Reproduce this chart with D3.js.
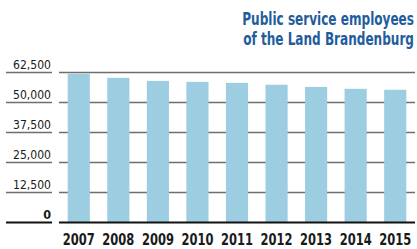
<!DOCTYPE html>
<html><head><meta charset="utf-8">
<script src="https://cdn.jsdelivr.net/npm/d3@7"></script>
<style>
html,body{margin:0;padding:0;background:#fff;}
svg{display:block;}
text{font-family:"DejaVu Sans Condensed","Liberation Sans Narrow","Arial Narrow",sans-serif;}
</style></head>
<body>
<svg id="chart" width="417" height="249"></svg>
<script>
const years = ["2007","2008","2009","2010","2011","2012","2013","2014","2015"];
const employees = [62000, 60300, 59000, 58600, 58200, 57400, 56500, 55700, 55300];
const tickValues = [0, 12500, 25000, 37500, 50000, 62500];
const titleLines = ["Public service employees", "of the Land Brandenburg"];

const svg = d3.select("#chart");
const x = d3.scaleBand().domain(years).range([59, 415]).paddingInner(0.44).paddingOuter(0.22);
const y = d3.scaleLinear().domain([0, 62500]).range([222.5, 72.5]);
const fmt = d3.format(",");

const grid = svg.append("g");
tickValues.forEach(v => {
  const zero = v === 0;
  const col = zero ? "#111" : "#6e6e6e";
  const sw = zero ? 2 : 1.3;
  grid.append("line").attr("x1", 6).attr("x2", 52).attr("y1", y(v)).attr("y2", y(v))
    .attr("stroke", col).attr("stroke-width", sw);
  if (!zero) grid.append("line").attr("x1", 59).attr("x2", 415).attr("y1", y(v)).attr("y2", y(v))
    .attr("stroke", col).attr("stroke-width", sw);
  const t = grid.append("text").attr("x", 51).attr("y", y(v) - 3.5).attr("text-anchor", "end")
    .attr("font-size", 12.5).attr("font-weight", zero ? "bold" : "normal").attr("fill", "#1a1a1a")
    .text(fmt(v));
  if (!zero) t.attr("textLength", 38).attr("lengthAdjust", "spacingAndGlyphs");
});

svg.append("g").selectAll("rect").data(years).join("rect")
  .attr("x", d => x(d)).attr("width", x.bandwidth())
  .attr("y", (d, i) => y(employees[i])).attr("height", (d, i) => y(0) - y(employees[i]))
  .attr("fill", "#9dcde0");

svg.append("line").attr("x1", 59).attr("x2", 415).attr("y1", y(0)).attr("y2", y(0))
  .attr("stroke", "#111").attr("stroke-width", 2);

svg.append("g").selectAll("text").data(years).join("text")
  .attr("x", d => x(d) + x.bandwidth() / 2).attr("y", 245).attr("text-anchor", "middle")
  .attr("font-size", 15.5).attr("font-weight", "bold").attr("fill", "#1a1a1a")
  .attr("textLength", 32).attr("lengthAdjust", "spacingAndGlyphs").text(d => d);

svg.append("g").attr("transform", "translate(414,0) scale(0.79,1)")
  .selectAll("text").data(titleLines).join("text")
  .attr("x", 0).attr("y", (d, i) => 25 + i * 20).attr("text-anchor", "end")
  .attr("font-size", 17).attr("font-weight", "bold").attr("fill", "#1f5d9c").text(d => d);
</script>
</body></html>
